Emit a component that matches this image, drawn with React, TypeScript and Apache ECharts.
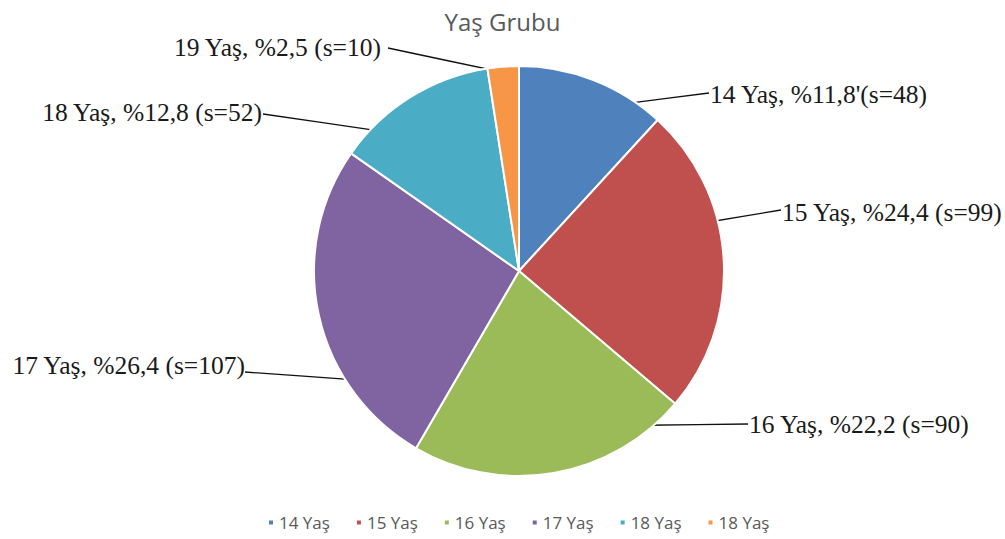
import React, { useEffect, useRef } from "react";
import * as echarts from "echarts";

// ---- data ----
const categories = ["14 Yaş", "15 Yaş", "16 Yaş", "17 Yaş", "18 Yaş", "19 Yaş"];
const counts = [48, 99, 90, 107, 52, 10];
const legendLabels = ["14 Yaş", "15 Yaş", "16 Yaş", "17 Yaş", "18 Yaş", "18 Yaş"];
const countSeparators = ["'", " ", " ", " ", " ", " "];
const titleText = "Yaş Grubu";

// ---- style / layout ----
const colors = ["#4F81BD", "#C0504D", "#9BBB59", "#8064A2", "#4BACC6", "#F79646"];
const CX = 519;
const CY = 271;
const R = 205;
// label placement: text anchor (x,y,align), line end (lx,ly), line start angle (deg, math) and radius fraction
const labelPlacement = [
  { x: 710, y: 94, align: "left", lx: 709, ly: 93, angle: 57, rf: 0.975 },
  { x: 782, y: 212, align: "left", lx: 781, ly: 210, angle: 14.5, rf: 0.95 },
  { x: 749, y: 424, align: "left", lx: 748, ly: 424, angle: -50.5, rf: 0.975 },
  { x: 245, y: 365, align: "right", lx: 245, ly: 372, angle: 213.6, rf: 0.96 },
  { x: 262, y: 112, align: "right", lx: 263, ly: 114, angle: 135.6, rf: 0.98 },
  { x: 381, y: 47, align: "right", lx: 388, ly: 48, angle: 93.2, rf: 0.965 },
];

export default function App() {
  const ref = useRef<HTMLDivElement>(null);
  useEffect(() => {
    document.body.style.margin = "0";
    if (!ref.current) return;
    const chart = echarts.init(ref.current, undefined, { renderer: "svg" });
    const total = counts.reduce((a, b) => a + b, 0);
    const data = categories.map((name, i) => ({
      name,
      value: counts[i],
      itemStyle: { color: colors[i] },
    }));
    chart.setOption({
      animation: false,
      title: {
        text: titleText,
        left: "center",
        top: 4,
        textStyle: { fontFamily: "Open Sans", fontSize: 24, fontWeight: "normal", color: "#595959" },
      },
      legend: {
        top: 509,
        left: 262,
        icon: "rect",
        itemWidth: 6,
        itemHeight: 6,
        itemGap: 25,
        data: categories,
        formatter: (name: string) => legendLabels[categories.indexOf(name)],
        textStyle: { fontFamily: "Open Sans", fontSize: 17, color: "#595959" },
      },
      series: [
        {
          type: "pie",
          center: [CX, CY],
          radius: R,
          startAngle: 90,
          clockwise: true,
          avoidLabelOverlap: false,
          data,
          itemStyle: { borderColor: "#ffffff", borderWidth: 2 },
          label: {
            show: true,
            position: "outside",
            fontFamily: "Liberation Serif",
            fontSize: 25.5,
            color: "#1a1a1a",
            formatter: (p: any) => {
              const i = p.dataIndex;
              const pct = ((counts[i] / total) * 100).toFixed(1).replace(".", ",");
              return `${categories[i]}, %${pct}${countSeparators[i]}(s=${counts[i]})`;
            },
          },
          labelLine: {
            show: true,
            length: 10,
            length2: 10,
            lineStyle: { color: "#111111", width: 1.3 },
          },
          labelLayout: (params: any) => {
            const lp = labelPlacement[params.dataIndex];
            const a = (lp.angle * Math.PI) / 180;
            const sx = CX + Math.cos(a) * R * lp.rf;
            const sy = CY - Math.sin(a) * R * lp.rf;
            return {
              x: lp.x,
              y: lp.y,
              align: lp.align,
              verticalAlign: "middle",
              labelLinePoints: [
                [sx, sy],
                [(sx + lp.lx) / 2, (sy + lp.ly) / 2],
                [lp.lx, lp.ly],
              ],
            };
          },
        },
      ],
    });
    return () => chart.dispose();
  }, []);
  return <div ref={ref} style={{ width: 1005, height: 539 }} />;
}
